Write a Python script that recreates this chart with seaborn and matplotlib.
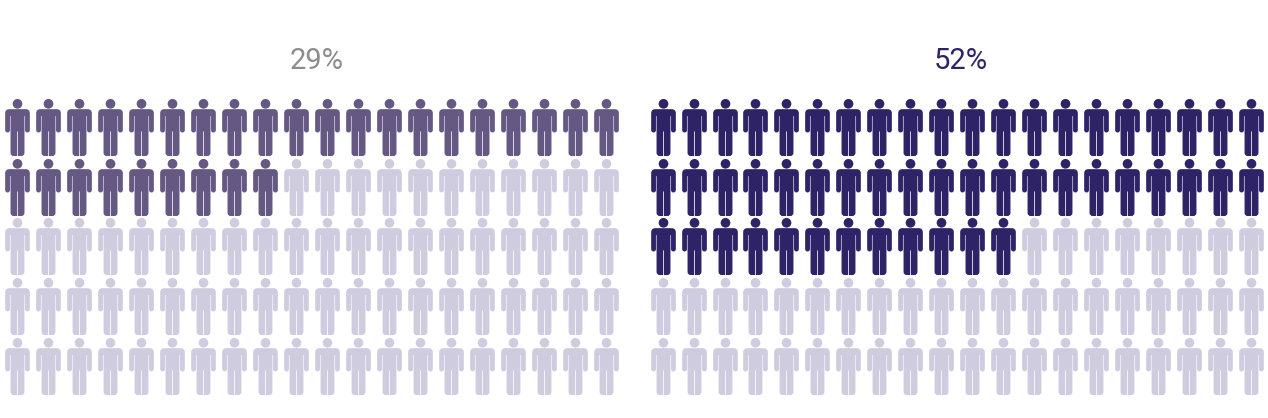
import numpy as np
import pandas as pd
import matplotlib
matplotlib.use("Agg")
import matplotlib.pyplot as plt
from matplotlib.path import Path
import seaborn as sns

# --- data ---
percentages = [29, 52]
labels = ["29%", "52%"]
n_columns = 20
n_rows = 5

# --- style ---
FILLED = ["#655883", "#2d2366"]
EMPTY = "#cfcce0"
TITLE = ["#8c8c8c", "#2d2366"]
W, H = 1268, 418
DPI = 100


def rounded_polygon(corners):
    """Closed path from (x, y, radius) corners, with rounded corners."""
    pts = np.array([c[:2] for c in corners], float)
    rad = [c[2] for c in corners]
    n = len(pts)
    verts, codes = [], []
    for i in range(n):
        p, prev, nxt = pts[i], pts[i - 1], pts[(i + 1) % n]
        r = rad[i]
        if r == 0:
            verts.append(p)
            codes.append(Path.LINETO)
        else:
            a = p + (prev - p) / np.linalg.norm(prev - p) * r
            b = p + (nxt - p) / np.linalg.norm(nxt - p) * r
            verts += [a, p, b]
            codes += [Path.LINETO, Path.CURVE3, Path.CURVE3]
    codes[0] = Path.MOVETO
    verts.append(verts[0])
    codes.append(Path.CLOSEPOLY)
    return Path(np.array(verts), codes)


def person_marker():
    c = Path.unit_circle()
    head = Path(c.vertices * 4.8 + np.array([0, 23.7]), c.codes)
    half = [
        (0.4, -3.9, 0), (0.4, -28.5, 0.4), (6.9, -28.5, 3.1), (6.9, 11.4, 0),
        (7.55, 11.4, 0), (7.55, -4.9, 2.3), (12.3, -4.9, 2.3), (12.3, 18.3, 4.2),
    ]
    right = half
    left = [(-x, y, r) for x, y, r in reversed(half)]
    body = rounded_polygon(right + left)
    return Path.make_compound_path(head, body)


PERSON = person_marker()
MARKER_SIZE = (57 * 72 / DPI) ** 2

sns.set_theme(style="white", rc={"font.family": ["Roboto", "DejaVu Sans"]})
fig = plt.figure(figsize=(W / DPI, H / DPI), dpi=DPI)

panel_left = [1.8, 647.1]
pitch_x = [31.0, 30.97]
pitch_y = 59.9
grid_top = 96.7
title_centre = [316.5, 960.5]
title_y = 60.8

for i, pct in enumerate(percentages):
    axw = pitch_x[i] * n_columns
    axh = pitch_y * n_rows
    ax = fig.add_axes([panel_left[i] / W, 1 - (grid_top + axh) / H, axw / W, axh / H])
    cols, rows = np.meshgrid(np.arange(n_columns), np.arange(n_rows))
    df = pd.DataFrame({"col": cols.ravel(), "row": rows.ravel()})
    df["order"] = df["row"] * n_columns + df["col"]
    sns.scatterplot(data=df, x="col", y="row", marker=PERSON, s=MARKER_SIZE,
                    color=EMPTY, linewidth=0, ax=ax, clip_on=False, legend=False,
                    snap=False)
    sns.scatterplot(data=df[df["order"] < pct], x="col", y="row", marker=PERSON,
                    s=MARKER_SIZE, color=FILLED[i], linewidth=0, ax=ax,
                    clip_on=False, legend=False, snap=False)
    ax.set_xlim(-0.5, n_columns - 0.5)
    ax.set_ylim(n_rows - 0.5, -0.5)
    ax.set_axis_off()
    fig.text(title_centre[i] / W, 1 - title_y / H, labels[i],
             ha="center", va="center", fontsize=21, color=TITLE[i],
             family=["Roboto", "DejaVu Sans"])

fig.savefig("out.png", dpi=DPI, facecolor="white")
